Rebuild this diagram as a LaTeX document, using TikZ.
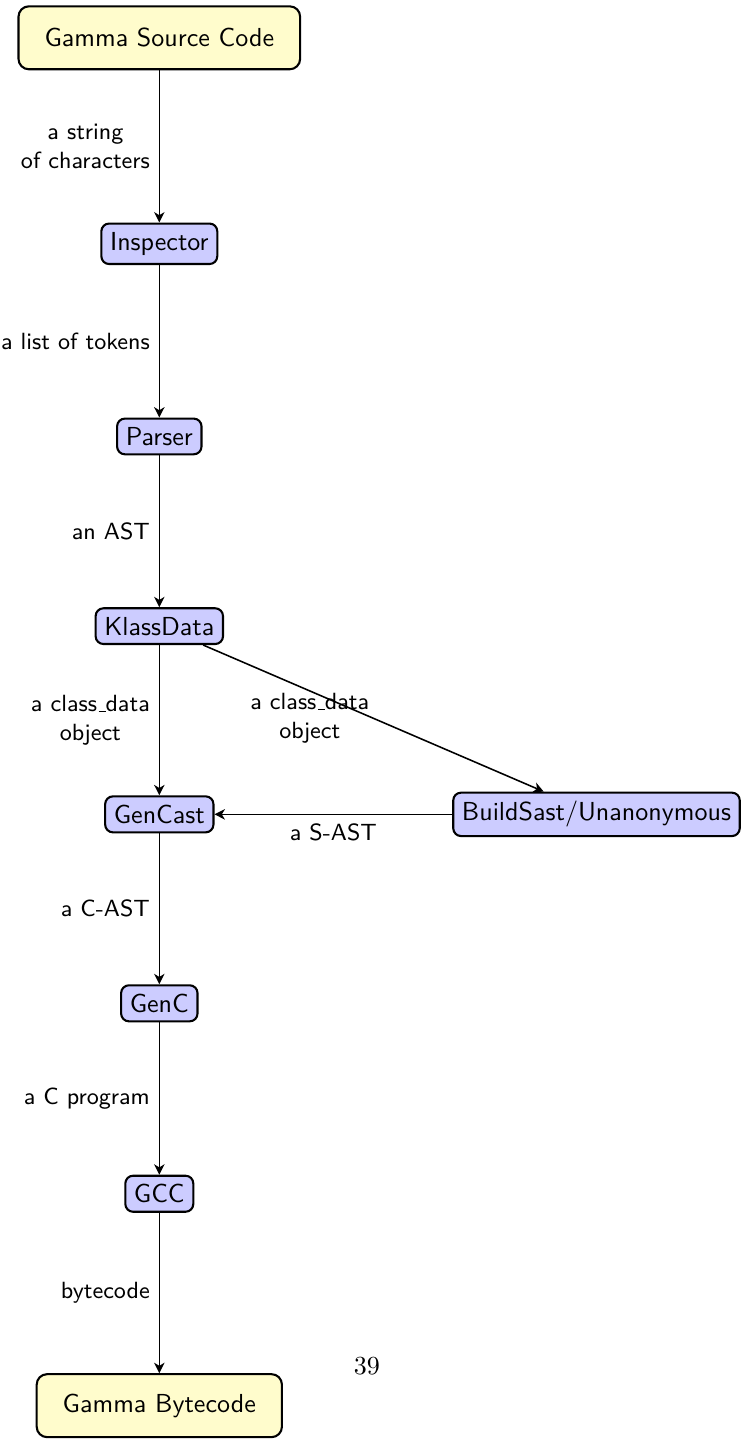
\documentclass[tikz,border=0pt]{standalone}
\usetikzlibrary{arrows.meta}
\newcommand{\uscore}{\kern.06em\rule{.3em}{0.4pt}}
\begin{document}
\begin{tikzpicture}[font=\sffamily, semithick, >={Stealth[length=4pt, width=4pt, inset=1.2pt]},
  io/.style={draw, thick, rounded corners, fill=yellow!20, inner xsep=10pt, minimum height=0.85cm},
  stage/.style={draw, thick, rounded corners=3pt, fill=blue!20},
  lbl/.style={font=\sffamily\small, align=center}]
  \useasboundingbox (0,0) rectangle (10,-19.42);
  % pipeline stages
  \node[io] (src) at (2.15,-0.51) {Gamma Source Code};
  \node[stage] (insp) at (2.15,-3.29) {Inspector};
  \node[stage] (parser) at (2.15,-5.89) {Parser};
  \node[stage] (klass) at (2.15,-8.45) {KlassData};
  \node[stage] (gencast) at (2.15,-10.99) {GenCast};
  \node[stage] (build) at (8.05,-10.99) {BuildSast/Unanonymous};
  \node[stage] (genc) at (2.15,-13.54) {GenC};
  \node[stage] (gcc) at (2.15,-16.11) {GCC};
  \node[io] (out) at (2.15,-18.97) {Gamma Bytecode};
  % what flows between them
  \draw[->] (src) -- node[lbl, left] {a string\\of characters} (insp);
  \draw[->] (insp) -- node[lbl, left] {a list of tokens} (parser);
  \draw[->] (parser) -- node[lbl, left] {an AST} (klass);
  \draw[->] (klass) -- node[lbl, left] {a class\uscore data\\object} (gencast);
  \draw[->] (klass) -- node[lbl, left, xshift=2pt] {a class\uscore data\\object} (build);
  \draw[->] (build) -- node[lbl, below] {a S-AST} (gencast);
  \draw[->] (gencast) -- node[lbl, left] {a C-AST} (genc);
  \draw[->] (genc) -- node[lbl, left] {a C program} (gcc);
  \draw[->] (gcc) -- node[lbl, left] {bytecode} (out);
  \node[font=\rmfamily] (pagenum) at (4.95,-18.43) {39};
\end{tikzpicture}
\end{document}
